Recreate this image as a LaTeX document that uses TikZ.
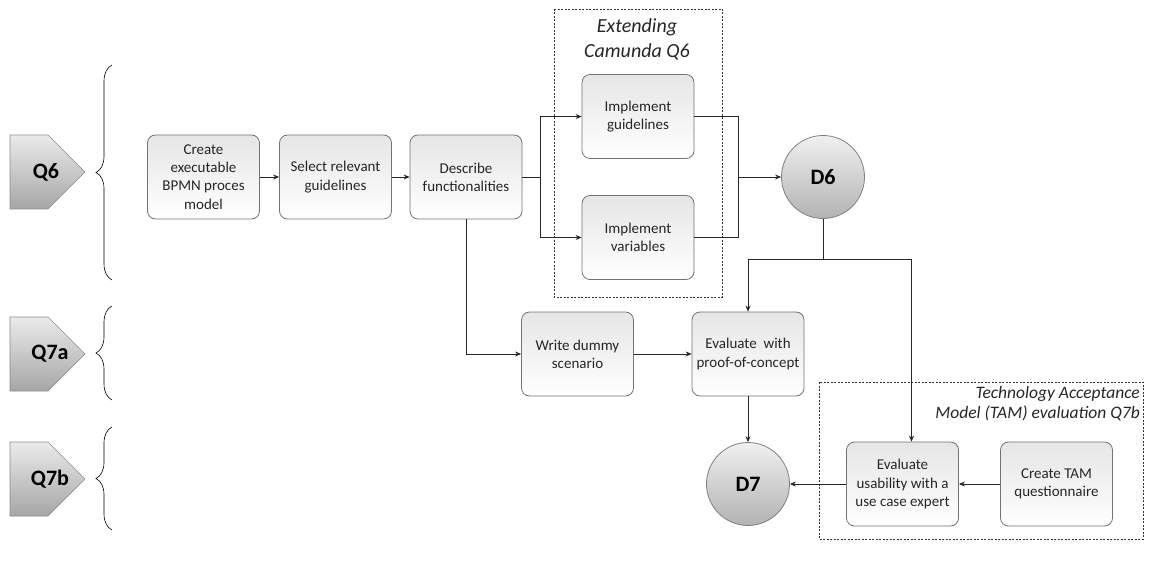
\documentclass[tikz,border=0pt]{standalone}
\usepackage{fontspec}
\setmainfont{Carlito}
\usetikzlibrary{arrows.meta,decorations.pathreplacing,calc}
\begin{document}
\begin{tikzpicture}[x=1pt,y=-1pt,
  stepbox/.style={rounded corners=8pt, draw=black!55, line width=0.8pt,
    top color=black!10, bottom color=white, minimum width=112pt,
    minimum height=84pt, align=center, text=black!85,
    font=\fontsize{15}{18.3}\selectfont, inner sep=1pt},
  deliv/.style={circle, draw=black!50, line width=0.8pt, top color=black!6,
    bottom color=black!30, minimum size=83pt, inner sep=0pt,
    font=\fontsize{22}{26}\selectfont\bfseries},
  qtag/.style={draw=black!45, line width=0.6pt, top color=black!8, bottom color=black!35},
  qlabel/.style={font=\fontsize{22}{26}\selectfont\bfseries},
  grp/.style={draw=black!80, line width=0.6pt, dash pattern=on 2pt off 1.5pt},
  grplabel/.style={align=center, inner sep=0pt, text=black!85},
  flow/.style={draw=black!85, line width=0.7pt},
  arr/.style={flow, -{Stealth[length=6pt,width=5pt]}},
  qbrace/.style={draw=black, line width=0.6pt, decorate, decoration={brace, amplitude=16pt}}
]
\useasboundingbox (0,0) rectangle (1153,561);

% question tags
\draw[qtag] (10,135) -- (48,135) -- (85,172) -- (48,209) -- (10,209) -- cycle;
\node[qlabel] (q6) at (46,172) {Q6};
\draw[qtag] (10,317) -- (48,317) -- (85,354) -- (48,391) -- (10,391) -- cycle;
\node[qlabel] (q7a) at (50,354) {Q7a};
\draw[qtag] (10,442) -- (48,442) -- (85,479) -- (48,516) -- (10,516) -- cycle;
\node[qlabel] (q7b) at (50,479) {Q7b};

% braces
\draw[qbrace] (112,280) -- (112,65);
\draw[qbrace] (112,400) -- (112,306);
\draw[qbrace] (112,530) -- (112,427);

% group frames
\draw[grp] (554,9) rectangle (722,297);
\node[grplabel, font=\fontsize{20}{25}\selectfont\itshape] (extlab) at (637,39) {Extending\\Camunda Q6};
\draw[grp] (819,382) rectangle (1143,539);
\node[grplabel, align=right, anchor=north east, font=\fontsize{17.5}{20.5}\selectfont\itshape] (tamlab) at (1140,386) {Technology Acceptance\\Model (TAM) evaluation Q7b};

% steps
\node[stepbox] (b1) at (203.5,177) {Create\\executable\\BPMN proces\\model};
\node[stepbox] (b2) at (335.5,177) {Select relevant\\guidelines};
\node[stepbox] (b3) at (466,177) {Describe\\functionalities};
\node[stepbox] (ig) at (638,116.5) {Implement\\guidelines};
\node[stepbox] (iv) at (638,237.5) {Implement\\variables};
\node[stepbox] (wd) at (577.5,354) {Write dummy\\scenario};
\node[stepbox] (poc) at (748,354) {Evaluate\ \ with\\proof-of-concept};
\node[stepbox] (eu) at (902.5,484) {Evaluate\\usability with a\\use case expert};
\node[stepbox] (tam) at (1056.5,484) {Create TAM\\questionnaire};

% deliverables
\node[deliv] (d6) at (823,177) {D6};
\node[deliv] (d7) at (748,484) {D7};

% connectors
\coordinate (fork) at (540,177);
\coordinate (join) at (738,177);
\coordinate (split) at (823,259);
\draw[arr] (b1) -- (b2);
\draw[arr] (b2) -- (b3);
\draw[flow] (b3.east) -- (fork);
\draw[arr] (fork) |- (ig.west);
\draw[arr] (fork) |- (iv.west);
\draw[flow] (ig.east) -| (join);
\draw[flow] (iv.east) -| (join);
\draw[arr] (join) -- (d6.west);
\draw[arr] (b3.south) |- (wd.west);
\draw[arr] (wd) -- (poc);
\draw[flow] (d6.south) -- (split);
\draw[arr] (split) -| (poc.north);
\draw[arr] (split) -| ([xshift=9pt]eu.north);
\draw[arr] (poc) -- (d7);
\draw[arr] (tam) -- (eu);
\draw[arr] (eu) -- (d7);
\end{tikzpicture}
\end{document}
